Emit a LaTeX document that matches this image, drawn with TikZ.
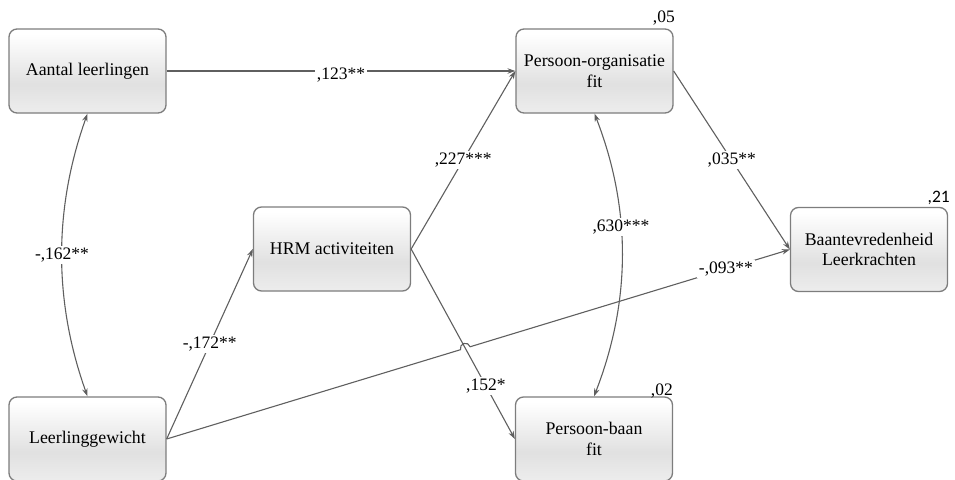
\documentclass[tikz,border=0pt]{standalone}
\usepackage{fontspec}
\setmainfont{Liberation Serif}
\newfontfamily\rsqfont{Carlito}
\usetikzlibrary{arrows.meta,calc}

\definecolor{boxedge}{RGB}{125,125,125}
\definecolor{lineclr}{RGB}{95,95,95}
% soft vertical gradient used for all boxes (bottom -> top)
\pgfdeclareverticalshading{boxshade}{100bp}{%
  color(0bp)=(black!7); color(25bp)=(black!7); color(42bp)=(black!12);
  color(72bp)=(white); color(100bp)=(white)}

\begin{document}
\begin{tikzpicture}[x=1pt,y=-1pt,
  box/.style={draw=boxedge, line width=1.3pt, rounded corners=8pt,
    minimum width=157pt, minimum height=84pt, shading=boxshade,
    align=center, font=\fontsize{17.8}{20.5}\selectfont, inner sep=2pt},
  conn/.style={draw=lineclr, line width=1.1pt, -{Stealth[length=8pt,width=5.5pt]}},
  biconn/.style={draw=lineclr, line width=1.1pt,
    {Stealth[length=8pt,width=5.5pt]}-{Stealth[length=8pt,width=5.5pt]}},
  lbl/.style={fill=white, inner sep=2pt, font=\fontsize{17.5}{20}\selectfont},
  rsq/.style={inner sep=0pt, anchor=base east, font=\fontsize{17.5}{20}\selectfont},
  rsqsans/.style={rsq, font=\rsqfont\fontsize{17.5}{20}\selectfont}
]
\useasboundingbox (0,0) rectangle (955,479);
\clip (0,0) rectangle (955,479);

% boxes
\node[box] (A)    at (87.5,71)  {Aantal leerlingen};
\node[box] (PO)   at (594.5,71) {Persoon-organisatie\\fit};
\node[box] (HRM)  at (332,249)  {HRM activiteiten};
\node[box] (Baan) at (869,249.5){Baantevredenheid\\Leerkrachten};
\node[box] (LG)   at (87.5,439) {Leerlinggewicht};
\node[box] (PB)   at (594,439)  {Persoon-baan\\fit};

% explained variance
\node[rsq]     (rpo)   at (675,23)  {,05};
\node[rsqsans] (rbaan) at (950,202) {,21};
\node[rsq]     (rpb)   at (673,395) {,02};

% paths
\draw[conn] (A.east) -- (PO.west) node[lbl, pos=0.5, yshift=-4pt] {,123**};
\draw[biconn] (A.south) .. controls +(-34,95) and +(-34,-95) .. (LG.north)
  node[lbl, pos=0.5] {-,162**};
\draw[conn] (LG.east) -- (HRM.west) node[lbl, pos=0.5] {-,172**};
\draw[conn] (HRM.east) -- (PO.west) node[lbl, pos=0.5] {,227***};
\draw[conn] (HRM.east) -- (PB.west) node[lbl, pos=0.72] {,152*};
\draw[biconn] (PO.south) .. controls +(37,95) and +(37,-95) .. (PB.north)
  node[lbl, pos=0.4] {,630***};
\draw[conn] (PO.east) -- (Baan.west) node[lbl, pos=0.5] {,035**};

% direct path with a line jump over HRM -> Persoon-baan fit
\coordinate (X) at (intersection of LG.east--Baan.west and HRM.east--PB.west);
\draw[conn] (LG.east) -- ($(X)!5pt!(LG.east)$)
  arc[start angle=196.9, end angle=16.9, radius=5pt]
  -- (Baan.west) node[lbl, pos=0.8] {-,093**};
\end{tikzpicture}
\end{document}
